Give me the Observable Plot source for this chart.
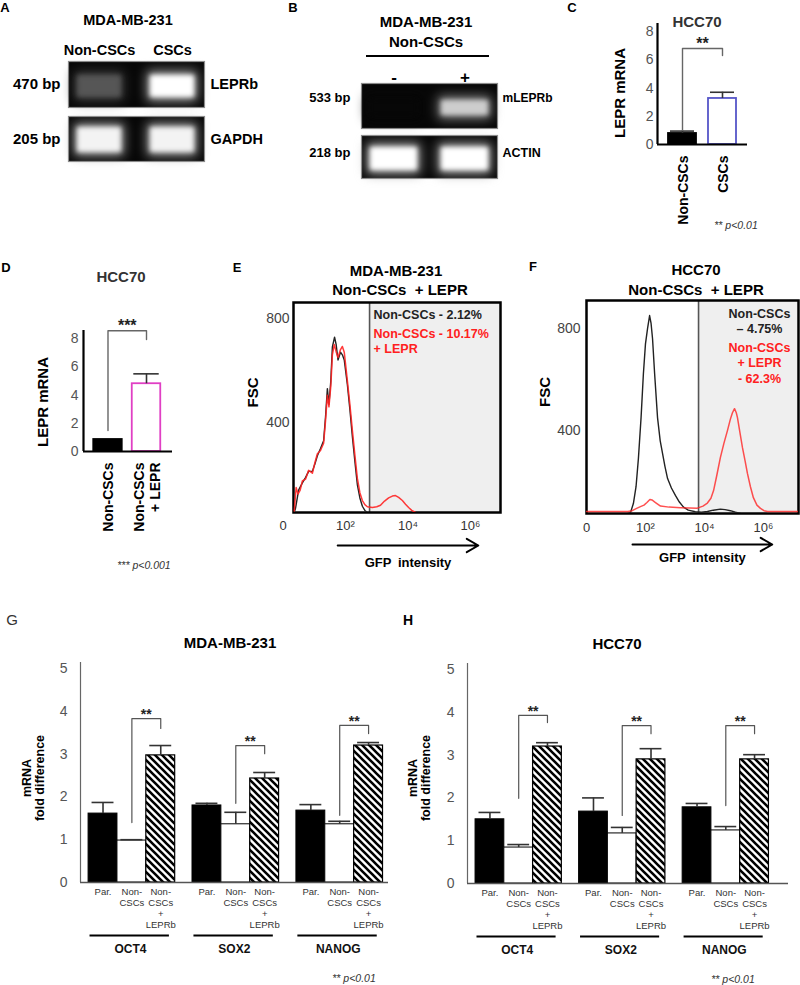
<!DOCTYPE html>
<html>
<head>
<meta charset="utf-8">
<script src="https://cdn.jsdelivr.net/npm/d3@7"></script>
<script src="https://cdn.jsdelivr.net/npm/@observablehq/plot@0.6"></script>
<style>
  html, body { margin: 0; padding: 0; background: #fff; }
  #fig { position: relative; width: 800px; height: 985px; overflow: hidden; background: #fff;
         font-family: "Liberation Sans", Arial, sans-serif; color: #000; }
  .lbl { position: absolute; white-space: pre; line-height: 1.15; text-align: center; transform: translate(-50%, -50%); }
</style>
</head>
<body>
<div id="fig"></div>
<script>
// ================= DATA =================
// Panel A (RT-PCR gel, MDA-MB-231)
const aLanes = ["Non-CSCs", "CSCs"];
const aLEPRb = [0.32, 1.0];
const aGAPDH = [0.95, 0.95];
// Panel B (RT-PCR gel, MDA-MB-231 Non-CSCs)
const bLanes = ["-", "+"];
const bMLEPRb = [0.0, 0.8];
const bACTIN = [1.0, 1.0];
// Panel C (HCC70, LEPR mRNA)
const cCats = ["Non-CSCs", "CSCs"];
const cMeans = [0.78, 3.26];
const cErrs = [0.17, 0.44];
const cBracket = {low: 1.0, top: 6.8, lowRight: 6.3, stars: "**"};
// Panel D (HCC70, LEPR mRNA)
const dCats = ["Non-CSCs", "Non-CSCs\n+ LEPR"];
const dMeans = [0.85, 4.8];
const dErrs = [0.0, 0.7];
const dBracket = {low: 1.49, top: 8.55, lowRight: 7.93, stars: "***"};
// Flow cytometry x ticks (log10 GFP intensity)
const flowTickValues = [0, 2, 4, 6];
const flowTickLabels = ["0", "10²", "10⁴", "10⁶"];
// Panel E (MDA-MB-231): [log10 GFP, FSC count]
const eGate = 2.77;
const eBlack = [[0.36,54],[0.40,70],[0.50,140],[0.62,168],[0.72,188],[0.82,212],[0.94,212],[1.02,240],[1.10,272],[1.20,300],[1.30,330],[1.36,420],[1.42,530],[1.47,470],[1.53,560],[1.58,690],[1.65,728],[1.70,700],[1.76,640],[1.84,670],[1.90,660],[1.96,640],[2.06,545],[2.14,450],[2.22,345],[2.30,250],[2.38,160],[2.46,110],[2.54,78],[2.62,62],[2.70,54]];
const eRed = [[0.36,60],[0.42,150],[0.48,125],[0.55,140],[0.62,175],[0.72,182],[0.82,216],[0.94,205],[1.02,245],[1.10,280],[1.20,292],[1.30,320],[1.36,405],[1.42,505],[1.47,460],[1.53,540],[1.58,660],[1.64,700],[1.70,672],[1.76,650],[1.84,680],[1.90,692],[1.96,670],[2.06,560],[2.14,470],[2.22,370],[2.30,275],[2.38,185],[2.46,130],[2.54,100],[2.62,84],[2.70,76],[2.86,73],[3.00,76],[3.12,82],[3.25,98],[3.38,110],[3.50,117],[3.60,119],[3.70,112],[3.82,100],[3.92,86],[4.02,73],[4.12,62],[4.24,54]];
const eNotesBlack = "Non-CSCs - 2.12%";
const eNotesRed = "Non-CSCs - 10.17%\n+ LEPR";
// Panel F (HCC70)
const fGate = 3.8;
const fBlack = [[1.40,75],[1.49,78],[1.59,114],[1.68,180],[1.76,290],[1.85,450],[1.93,624],[2.00,740],[2.07,800],[2.14,851],[2.19,820],[2.24,760],[2.31,624],[2.41,450],[2.50,360],[2.58,310],[2.66,260],[2.75,212],[2.88,175],[3.02,145],[3.15,120],[3.29,100],[3.45,88],[3.69,82],[3.90,80],[4.10,83],[4.30,88],[4.54,92],[4.70,90],[4.88,86],[5.05,80],[5.22,75]];
const fRed = [[0.00,83],[1.40,83],[1.55,86],[1.70,95],[1.83,102],[1.95,108],[2.05,118],[2.15,130],[2.22,128],[2.34,118],[2.51,104],[2.80,100],[3.19,98],[3.50,97],[3.76,96],[3.95,104],[4.10,116],[4.22,135],[4.31,165],[4.42,225],[4.54,294],[4.66,350],[4.78,400],[4.88,445],[4.95,470],[5.02,486],[5.08,470],[5.12,451],[5.20,395],[5.29,333],[5.38,280],[5.46,231],[5.56,180],[5.66,137],[5.78,108],[5.90,95],[6.02,86],[6.14,83],[7.19,83]];
const fNotesBlack = "Non-CSCs\n– 4.75%";
const fNotesRed = "Non-CSCs\n+ LEPR\n- 62.3%";
// Panels G / H (qPCR fold difference)
const genes = ["OCT4", "SOX2", "NANOG"];
const conditions = ["Par.", "Non-\nCSCs", "Non-\nCSCs\n+\nLEPRb"];
const gMeans = [[1.61, 0.98, 2.97], [1.80, 1.36, 2.43], [1.68, 1.36, 3.20]];
const gErrs  = [[0.26, 0.02, 0.23], [0.05, 0.28, 0.14], [0.14, 0.07, 0.07]];
const gBrackets = [[1.40, 3.83, 3.60], [1.85, 3.20, 3.01], [1.57, 3.67, 3.48]];
const hMeans = [[1.50, 0.84, 3.20], [1.68, 1.17, 2.90], [1.78, 1.24, 2.90]];
const hErrs  = [[0.16, 0.07, 0.09], [0.32, 0.14, 0.25], [0.09, 0.09, 0.11]];
const hBrackets = [[1.99, 3.93, 3.76], [1.59, 3.69, 3.50], [1.82, 3.69, 3.50]];

// ================= HELPERS =================
const FONT = "'Liberation Sans', Arial, sans-serif";
const fig = document.getElementById("fig");
const baseStyle = (extra = {}) => Object.assign({fontFamily: FONT, fontSize: "14px", background: "transparent", overflow: "visible", color: "#444"}, extra);

function place(svg, left, top) {
  svg.style.position = "absolute";
  svg.style.left = left + "px";
  svg.style.top = top + "px";
  svg.style.maxWidth = "none";
  fig.appendChild(svg);
  return svg;
}
function label(text, x, y, o = {}) {
  const d = document.createElement("div");
  d.className = "lbl";
  d.textContent = text;
  d.style.left = x + "px";
  d.style.top = y + "px";
  d.style.fontSize = (o.size || 14) + "px";
  d.style.fontWeight = o.weight || "bold";
  d.style.color = o.color || "#000";
  if (o.italic) d.style.fontStyle = "italic";
  if (o.lh) d.style.lineHeight = o.lh;
  if (o.rotate) d.style.transform = "translate(-50%, -50%) rotate(-90deg)";
  fig.appendChild(d);
}

// ---------- gels ----------
function gel(o) {
  const rows = o.lanes.map((lane, i) => ({lane, v: o.values[i]}));
  const marks = [
    Plot.frame({fill: "#070707", stroke: "#8c8c8c", strokeWidth: 1.2}),
    Plot.cell(rows, {x: "lane", fill: d => d.v * 0.6, fillOpacity: 0.999, insetTop: o.inTop - 4, insetBottom: o.inBot - 4, insetLeft: 1, insetRight: 1}),
    Plot.cell(rows, {x: "lane", fill: "v", fillOpacity: 0.998, insetTop: o.inTop, insetBottom: o.inBot, insetLeft: 4, insetRight: 4}),
    Plot.text([o.bp], {text: d => d, frameAnchor: "left", dx: o.bpDx, dy: o.labelDy, textAnchor: "end", fontWeight: "bold", fontSize: o.bpSize, fill: "black"}),
    Plot.text([o.name], {text: d => d, frameAnchor: "right", dx: o.nameDx, dy: o.labelDy, textAnchor: "start", fontWeight: "bold", fontSize: o.nameSize, fill: "black"})
  ];
  if (o.header) marks.push(Plot.text(o.lanes, {x: d => d, text: d => d, frameAnchor: "top", dy: o.headerDy, fontWeight: "bold", fontSize: o.headerSize, fill: "black"}));
  const svg = Plot.plot({
    width: o.width, height: o.height,
    marginLeft: o.mL, marginRight: o.mR, marginTop: o.mT, marginBottom: 0,
    x: {domain: o.lanes, paddingInner: o.pi, paddingOuter: o.po, axis: null},
    color: {type: "linear", domain: [0, 1], range: ["#070707", "#ffffff"]},
    style: baseStyle(),
    marks
  });
  const sel = d3.select(svg);
  sel.selectAll('[fill-opacity="0.999"]').attr("fill-opacity", 1).style("filter", "blur(6px)");
  sel.selectAll('[fill-opacity="0.998"]').attr("fill-opacity", 1).style("filter", "blur(2.5px)");
  place(svg, o.left, o.top);
}

// ---------- LEPR mRNA bars (C, D) ----------
function mrnaBars(o) {
  const yMax = 8.57;
  const rows = o.cats.map((c, i) => ({c, i, m: o.means[i], e: o.errs[i], fill: o.fills[i], stroke: o.strokes[i]}));
  const withErr = rows.filter(d => d.e > 0);
  const b = o.bracket;
  const br = [{x: 0, y: b.low}, {x: 0, y: b.top}, {x: 1, y: b.top}, {x: 1, y: b.lowRight}];
  const svg = Plot.plot({
    width: o.width, height: o.height,
    marginLeft: o.mL, marginRight: o.mR, marginTop: o.mT, marginBottom: o.mB,
    x: {domain: o.xDomain, axis: null},
    y: {domain: [0, yMax], ticks: [0, 2, 4, 6, 8], tickFormat: d => String(d), tickSize: 0, tickPadding: o.tickPad, label: null},
    color: {type: "identity"},
    style: baseStyle({color: "#555", fontSize: "14px"}),
    marks: [
      Plot.rect(rows, {x1: d => d.i - o.half, x2: d => d.i + o.half, y1: 0, y2: "m", fill: "fill", stroke: "stroke", strokeWidth: 1.8}),
      Plot.ruleX(withErr, {x: "i", y1: "m", y2: d => d.m + d.e, stroke: "#333", strokeWidth: 1.6}),
      Plot.ruleY(withErr, {y: d => d.m + d.e, x1: d => d.i - o.capHalf, x2: d => d.i + o.capHalf, stroke: "#333", strokeWidth: 1.6}),
      Plot.line(br, {x: "x", y: "y", stroke: "#666", strokeWidth: 1.4}),
      Plot.text([b], {x: 0.5, y: "top", text: "stars", dy: -5, fontSize: 16, fontWeight: "bold", fill: "#222"}),
      Plot.ruleX([o.xDomain[0]], {y1: 0, y2: yMax, stroke: "black", strokeWidth: 2.2}),
      Plot.ruleY([0], {x1: o.xDomain[0], x2: o.xDomain[1], stroke: "black", strokeWidth: 2.2}),
      Plot.text(rows, {x: "i", y: 0, text: "c", rotate: -90, textAnchor: "end", dy: o.labelDy, fontSize: o.labelSize, fontWeight: "bold", fill: "black", lineHeight: 1.15})
    ]
  });
  place(svg, o.left, o.top);
}

// ---------- flow histograms (E, F) ----------
function flow(o) {
  const [x0, x1] = o.xDomain, [y0, y1] = o.yDomain;
  const ticks = flowTickValues.map((v, i) => ({v, t: flowTickLabels[i]}));
  const svg = Plot.plot({
    width: o.width, height: o.height,
    marginLeft: o.mL, marginRight: o.mR, marginTop: o.mT, marginBottom: o.mB,
    x: {domain: o.xDomain, axis: null},
    y: {domain: o.yDomain, ticks: [400, 800], tickFormat: d => String(d), tickSize: 0, tickPadding: o.tickPad, label: null},
    style: baseStyle({color: "#444", fontSize: "14px"}),
    marks: [
      Plot.rect([o.gate], {x1: d => d, x2: x1, y1: y0, y2: y1, fill: "#efefef"}),
      Plot.ruleX([o.gate], {stroke: "#555", strokeWidth: 1.6}),
      Plot.frame({stroke: "black", strokeWidth: 2.5}),
      Plot.line(o.black, {x: d => d[0], y: d => d[1], stroke: "#222", strokeWidth: 1.4, clip: true}),
      Plot.line(o.red, {x: d => d[0], y: d => d[1], stroke: "#ff2424", strokeOpacity: o.redOpacity, strokeWidth: 1.5, clip: true}),
      Plot.text(ticks, {x: "v", y: y0, text: "t", dy: o.tickDy, fontSize: 13, fill: "#333"}),
      Plot.arrow([o.arrow], {x1: "from", x2: "to", y1: y0, y2: y0, dy: o.arrowDy, stroke: "black", strokeWidth: 2, headLength: 10}),
      Plot.text(["GFP\u2002intensity"], {x: (o.arrow.from + o.arrow.to) / 2, y: y0, text: d => d, dy: o.gfpDy, fontSize: 13, fontWeight: "bold", fill: "black"}),
      Plot.text(["FSC"], {text: d => d, frameAnchor: "left", dx: o.fscDx, rotate: -90, fontSize: 15, fontWeight: "bold", fill: "black"}),
      ...o.notes
    ]
  });
  place(svg, o.left, o.top);
}

// ---------- qPCR grouped bars (G, H) ----------
const GROUP_STEP = 3.6;
function qpcr(o) {
  const yMax = 5.14;
  const rows = [];
  genes.forEach((g, gi) => conditions.forEach((c, bi) => rows.push({g, gi, bi, c, pos: gi * GROUP_STEP + bi, m: o.means[gi][bi], e: o.errs[gi][bi]})));
  const groups = genes.map((g, gi) => ({g, gp: gi * GROUP_STEP, low: o.brackets[gi][0], top: o.brackets[gi][1], lowRight: o.brackets[gi][2], stars: "**"}));
  const brPts = groups.flatMap(d => [
    {g: d.g, x: d.gp + 1, y: d.low}, {g: d.g, x: d.gp + 1, y: d.top},
    {g: d.g, x: d.gp + 2, y: d.top}, {g: d.g, x: d.gp + 2, y: d.lowRight}]);
  const bar = {x1: d => d.pos - 0.5, x2: d => d.pos + 0.5, y1: 0, y2: "m"};
  const svg = Plot.plot({
    width: o.width, height: o.height,
    marginLeft: o.mL, marginRight: o.mR, marginTop: o.mT, marginBottom: o.mB,
    x: {domain: o.xDomain, axis: null},
    y: {domain: [0, yMax], ticks: [0, 1, 2, 3, 4, 5], tickFormat: d => String(d), tickSize: 0, tickPadding: 13, label: null},
    style: baseStyle({color: "#555", fontSize: "14px"}),
    marks: [
      Plot.rect(rows.filter(d => d.bi === 0), {...bar, fill: "black", stroke: "black", strokeWidth: 1}),
      Plot.rect(rows.filter(d => d.bi === 1), {...bar, fill: "white", stroke: "black", strokeWidth: 1}),
      Plot.rect(rows.filter(d => d.bi === 2), {...bar, fill: "white", fillOpacity: 0.997, stroke: "black", strokeWidth: 1.2}),
      Plot.ruleX(rows, {x: "pos", y1: "m", y2: d => d.m + d.e, stroke: "#333", strokeWidth: 1.6}),
      Plot.ruleY(rows, {y: d => d.m + d.e, x1: d => d.pos - 0.38, x2: d => d.pos + 0.38, stroke: "#333", strokeWidth: 1.6}),
      Plot.line(brPts, {x: "x", y: "y", z: "g", stroke: "#555", strokeWidth: 1.2}),
      Plot.text(groups, {x: d => d.gp + 1.5, y: "top", text: "stars", dy: -4, fontSize: 14, fontWeight: "bold", fill: "#222"}),
      Plot.ruleX([o.xDomain[0]], {y1: 0, y2: yMax, stroke: "#666", strokeWidth: 1.2}),
      Plot.ruleY([0], {x1: o.xDomain[0], x2: o.xDomain[1], stroke: "#555", strokeWidth: 1.6}),
      Plot.text(rows, {x: "pos", y: 0, text: "c", lineAnchor: "top", dy: 5, fontSize: 9.5, lineHeight: 1.15, fill: "#333"}),
      Plot.ruleY(groups, {y: 0, x1: d => d.gp - 0.45, x2: d => d.gp + 2.3, dy: 53, stroke: "black", strokeWidth: 2.2}),
      Plot.text(groups, {x: d => d.gp + 0.95, y: 0, dy: 67, text: "g", fontSize: 12, fontWeight: "bold", fill: "#111"})
    ]
  });
  const sel = d3.select(svg);
  const defs = sel.insert("defs", ":first-child");
  const p = defs.append("pattern").attr("id", o.hatchId).attr("patternUnits", "userSpaceOnUse").attr("width", 7).attr("height", 7);
  p.append("rect").attr("width", 7).attr("height", 7).attr("fill", "white");
  p.append("path").attr("d", "M-1,-1 L8,8 M-1,6 L1,8 M6,-1 L8,1").attr("stroke", "black").attr("stroke-width", 2.6);
  const h = sel.selectAll('[fill-opacity="0.997"]');
  h.attr("fill", `url(#${o.hatchId})`).attr("fill-opacity", 1);
  h.selectAll("rect").attr("fill", `url(#${o.hatchId})`);
  place(svg, o.left, o.top);
}

// ================= BUILD =================
// Panel A
gel({lanes: aLanes, values: aLEPRb, name: "LEPRb", bp: "470 bp", left: 0, top: 30, width: 270, height: 77,
     mL: 68, mR: 66, mT: 31, inTop: 14, inBot: 10, pi: 0.284, po: 0.061, header: true, headerDy: -17, headerSize: 14.5,
     bpSize: 15, nameSize: 14.5, bpDx: -8, nameDx: 6, labelDy: 0});
gel({lanes: aLanes, values: aGAPDH, name: "GAPDH", bp: "205 bp", left: 0, top: 116, width: 270, height: 45,
     mL: 68, mR: 66, mT: 0, inTop: 11, inBot: 9, pi: 0.284, po: 0.061, header: false,
     bpSize: 15, nameSize: 14.5, bpDx: -8, nameDx: 6, labelDy: 0});
// Panel B
gel({lanes: bLanes, values: bMLEPRb, name: "mLEPRb", bp: "533 bp", left: 250, top: 60, width: 310, height: 68,
     mL: 111, mR: 63, mT: 23, inTop: 17, inBot: 13, pi: 0.225, po: 0.07, header: true, headerDy: -13, headerSize: 17,
     bpSize: 13, nameSize: 12, bpDx: -11, nameDx: 5, labelDy: -8});
gel({lanes: bLanes, values: bACTIN, name: "ACTIN", bp: "218 bp", left: 250, top: 135, width: 310, height: 43,
     mL: 111, mR: 63, mT: 0, inTop: 12, inBot: 8, pi: 0.225, po: 0.07, header: false,
     bpSize: 13, nameSize: 12.5, bpDx: -11, nameDx: 5, labelDy: -4});
// Panel C
mrnaBars({cats: cCats, means: cMeans, errs: cErrs, fills: ["black", "white"], strokes: ["black", "#5656c8"], bracket: cBracket,
          left: 600, top: 15, width: 200, height: 220, mL: 57, mR: 53, mT: 8, mB: 91,
          xDomain: [-0.625, 1.625], half: 0.35, capHalf: 0.3, tickPad: 4, labelDy: 11, labelSize: 14});
// Panel D
mrnaBars({cats: dCats, means: dMeans, errs: dErrs, fills: ["black", "white"], strokes: ["black", "#e03fc4"], bracket: dBracket,
          left: 0, top: 315, width: 200, height: 235, mL: 83, mR: 28, mT: 15, mB: 99,
          xDomain: [-0.636, 1.675], half: 0.37, capHalf: 0.33, tickPad: 5, labelDy: 11, labelSize: 14});
// Panel E
flow({black: eBlack, red: eRed, gate: eGate, redOpacity: 0.9, left: 230, top: 295, width: 280, height: 280,
      mL: 63, mR: 10, mT: 7, mB: 63, xDomain: [0.336, 6.96], yDomain: [54, 861], tickPad: 4, tickDy: 13,
      arrow: {from: 1.75, to: 6.25}, arrowDy: 33, gfpDy: 50, fscDx: -40,
      notes: [
        Plot.text([eNotesBlack], {x: eGate, text: d => d, frameAnchor: "top", textAnchor: "start", lineAnchor: "top", dx: 4, dy: 8, fontSize: 12.5, fontWeight: "bold", fill: "#222"}),
        Plot.text([eNotesRed], {x: eGate, text: d => d, frameAnchor: "top", textAnchor: "start", lineAnchor: "top", dx: 4, dy: 25, lineHeight: 1.2, fontSize: 12.5, fontWeight: "bold", fill: "#ff2020"})
      ]});
// Panel F
flow({black: fBlack, red: fRed, gate: fGate, redOpacity: 0.8, left: 500, top: 292, width: 300, height: 283,
      mL: 86, mR: 2, mT: 8, mB: 62, xDomain: [0, 7.19], yDomain: [75, 910], tickPad: 6, tickDy: 14,
      arrow: {from: 1.56, to: 6.3}, arrowDy: 31, gfpDy: 44, fscDx: -41,
      notes: [
        Plot.text([fNotesBlack], {text: d => d, frameAnchor: "top-right", textAnchor: "middle", lineAnchor: "top", dx: -39, dy: 7, lineHeight: 1.2, fontSize: 12.5, fontWeight: "bold", fill: "#222"}),
        Plot.text([fNotesRed], {text: d => d, frameAnchor: "top-right", textAnchor: "middle", lineAnchor: "top", dx: -39, dy: 40, lineHeight: 1.25, fontSize: 12.5, fontWeight: "bold", fill: "#ff2020"})
      ]});
// Panel G
qpcr({means: gMeans, errs: gErrs, brackets: gBrackets, hatchId: "hatchG",
      left: 0, top: 600, width: 400, height: 385, mL: 80, mR: 12, mT: 62, mB: 103, xDomain: [-0.78, 9.89]});
// Panel H
qpcr({means: hMeans, errs: hErrs, brackets: hBrackets, hatchId: "hatchH",
      left: 400, top: 600, width: 400, height: 385, mL: 67, mR: 12, mT: 63, mB: 102, xDomain: [-0.78, 10.38]});

// ================= TEXT =================
label("A", 5, 8, {size: 13});
label("B", 293, 8, {size: 13});
label("C", 572, 8, {size: 13});
label("D", 6, 268, {size: 13});
label("E", 237, 268, {size: 13});
label("F", 533, 267, {size: 13});
label("G", 12, 620, {size: 15, weight: "normal", color: "#333"});
label("H", 408, 620, {size: 14});

label("MDA-MB-231", 128, 20, {size: 14.5});
label("MDA-MB-231", 426, 22, {size: 15});
label("Non-CSCs", 426, 42, {size: 15});
{
  const r = document.createElement("div");
  Object.assign(r.style, {position: "absolute", left: "366px", top: "55px", width: "123px", height: "2px", background: "#000"});
  fig.appendChild(r);
}
label("HCC70", 697, 22, {size: 15, color: "#333"});
label("LEPR mRNA", 620, 93, {size: 15, rotate: true});
label("** p<0.01", 736, 225, {size: 10.5, weight: "normal", italic: true, color: "#333"});

label("HCC70", 121, 277, {size: 15, color: "#333"});
label("LEPR mRNA", 43, 402, {size: 15, rotate: true});
label("*** p<0.001", 144, 565, {size: 10.5, weight: "normal", italic: true, color: "#333"});

label("MDA-MB-231", 396, 271, {size: 15});
label("Non-CSCs  + LEPR", 400, 290, {size: 15});
label("HCC70", 696, 270, {size: 15});
label("Non-CSCs  + LEPR", 696, 290, {size: 15});

label("MDA-MB-231", 230, 643, {size: 15});
label("mRNA\nfold difference", 33, 778, {size: 12.5, rotate: true, lh: 1.0});
label("** p<0.01", 354, 978, {size: 10.5, weight: "normal", italic: true, color: "#333"});
label("HCC70", 617, 644, {size: 15});
label("mRNA\nfold difference", 419, 778, {size: 12.5, rotate: true, lh: 1.0});
label("** p<0.01", 733, 979, {size: 10.5, weight: "normal", italic: true, color: "#333"});
</script>
</body>
</html>
